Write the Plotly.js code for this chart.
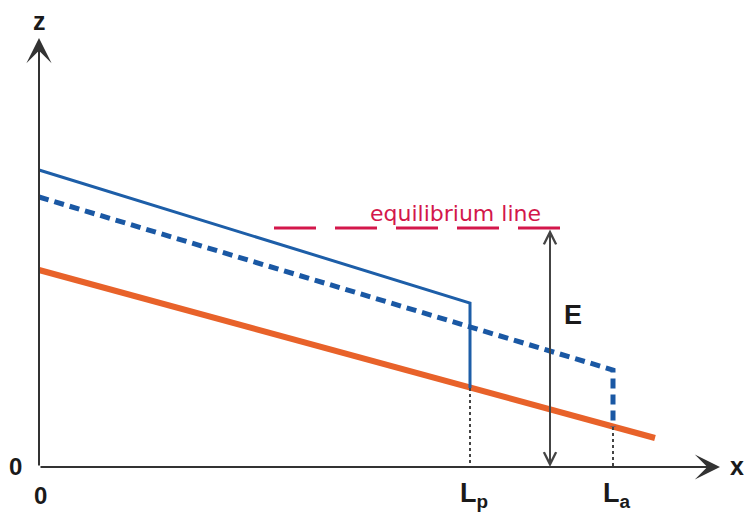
<!DOCTYPE html>
<html>
<head>
<meta charset="utf-8">
<script src="https://cdn.plot.ly/plotly-3.0.1.min.js"></script>
<style>html,body{margin:0;padding:0;background:#fff}#chart{width:744px;height:515px}</style>
</head>
<body>
<div id="chart"></div>
<script>
// Glacier profile values (arbitrary units)
var bedX = [0, 6.16];
var bedZ = [1.97, 0.29];
var surfaceX = [0, 4.31, 4.31];
var surfaceZ = [2.97, 1.64, 0.79];
var advancedX = [0, 5.74, 5.74];
var advancedZ = [2.70, 0.97, 0.40];
var elaX = [2.35, 5.24];
var elaZ = [2.39, 2.39];
var Lp = 4.31, LpBedZ = 0.79;
var La = 5.74, LaBedZ = 0.40;
var eArrowX = 5.11;
var xTickLabels = ['0', 'L<sub>p</sub>', 'L<sub>a</sub>'];
var xTickVals = [0, Lp, La];

var txtFont = {family: 'Liberation Sans, Arial, sans-serif', size: 24, color: '#1a1a1a', weight: 'bold'};
function f(size) { return Object.assign({}, txtFont, {size: size}); }

var traces = [
  {x: bedX, y: bedZ, mode: 'lines', line: {color: '#e8622a', width: 6}, hoverinfo: 'skip'},
  {x: surfaceX, y: surfaceZ, mode: 'lines', line: {color: '#1d5ea8', width: 3}, hoverinfo: 'skip'},
  {x: advancedX, y: advancedZ, mode: 'lines', line: {color: '#1a58a4', width: 5, dash: '10px,6px'}, hoverinfo: 'skip'},
  {x: elaX, y: elaZ, mode: 'lines', line: {color: '#d3174b', width: 3, dash: '42px,19px'}, hoverinfo: 'skip'},
  {x: [Lp, Lp], y: [LpBedZ, 0], mode: 'lines', line: {color: '#444', width: 2, dash: 'dot'}, hoverinfo: 'skip'},
  {x: [La, La], y: [LaBedZ, 0], mode: 'lines', line: {color: '#444', width: 2, dash: 'dot'}, hoverinfo: 'skip'}
];

var annotations = [
  {x: 6.81, y: 0, ax: 0, ay: 0, axref: 'x', ayref: 'y', xref: 'x', yref: 'y', showarrow: true,
   arrowhead: 3, arrowsize: 2.1, arrowwidth: 2, arrowcolor: '#333', text: ''},
  {x: 0, y: 4.29, ax: 0, ay: 0, axref: 'x', ayref: 'y', xref: 'x', yref: 'y', showarrow: true,
   arrowhead: 3, arrowsize: 2.1, arrowwidth: 2, arrowcolor: '#333', text: ''},
  {x: eArrowX, y: 0, ax: eArrowX, ay: elaZ[0], axref: 'x', ayref: 'y', xref: 'x', yref: 'y', showarrow: true,
   arrowside: 'end+start', arrowhead: 5, startarrowhead: 5, arrowsize: 1.2, startarrowsize: 1.2,
   arrowwidth: 2, arrowcolor: '#444', text: ''},
  {x: 0, y: 4.46, text: 'z', showarrow: false, font: f(25)},
  {x: 6.98, y: 0.01, text: 'x', showarrow: false, font: f(25)},
  {x: -0.24, y: 0.01, text: '0', showarrow: false, font: f(24)},
  {x: 5.34, y: 1.52, text: 'E', showarrow: false, font: f(27)},
  {x: 4.16, y: 2.54, text: 'equilibrium line', showarrow: false,
   font: {family: 'DejaVu Sans, sans-serif', size: 22, color: '#d3174b'}}
];
for (var i = 0; i < xTickVals.length; i++) {
  annotations.push({x: xTickVals[i] + (i === 0 ? 0.01 : 0.04), y: -0.28, text: xTickLabels[i], showarrow: false,
    font: f(i === 0 ? 24 : 27)});
}

var layout = {
  width: 744, height: 515,
  margin: {l: 0, r: 0, t: 0, b: 0},
  paper_bgcolor: '#fff', plot_bgcolor: '#fff',
  showlegend: false,
  xaxis: {range: [-0.39, 7.05], visible: false, fixedrange: true},
  yaxis: {range: [-0.48, 4.67], visible: false, fixedrange: true},
  annotations: annotations
};

Plotly.newPlot('chart', traces, layout, {staticPlot: true});
</script>
</body>
</html>
